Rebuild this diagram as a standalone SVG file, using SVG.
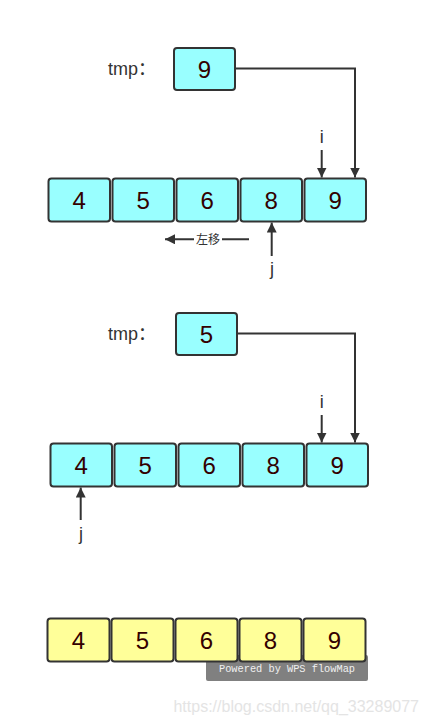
<svg xmlns="http://www.w3.org/2000/svg" width="429" height="724" viewBox="0 0 429 724">
<defs>
<marker id="ah" viewBox="0 0 10 10" refX="10" refY="5" markerWidth="10" markerHeight="10" markerUnits="userSpaceOnUse" orient="auto">
<path d="M0,0 L10,5 L0,10 z" fill="#333"/>
</marker>
<style>
.c{fill:#99FFFF;stroke:#333;stroke-width:2}
.y{fill:#FFFF99;stroke:#333;stroke-width:2}
.n{font-family:"Liberation Sans",Arial,sans-serif;font-size:24px;fill:#330000;text-anchor:middle}
.l{font-family:"Liberation Sans",Arial,sans-serif;font-size:18px;fill:#333333;text-anchor:middle}
.e{fill:none;stroke:#333;stroke-width:2;marker-end:url(#ah)}
</style>
</defs>
<rect width="429" height="724" fill="#fff"/>
<rect x="206" y="655" width="162" height="26" rx="2" fill="#808080"/>
<text x="219" y="672" font-family="'Liberation Mono','DejaVu Sans Mono',monospace" font-size="11" fill="#f0f0f0" textLength="136" lengthAdjust="spacingAndGlyphs">Powered by WPS flowMap</text>
<text x="419" y="712" font-family="'Liberation Sans',Arial,sans-serif" font-size="16" fill="#e4e4e4" text-anchor="end">https://blog.csdn.net/qq_33289077</text>

<text x="108" y="75" font-family="'Liberation Sans','Noto Sans CJK SC',sans-serif" font-size="18" fill="#333">tmp：</text>
<g id="tmp1"><rect class="c" x="174" y="48" width="61" height="42" rx="3"/><text class="n" x="204.5" y="78">9</text></g>
<g id="a1"><rect class="c" x="48.5" y="178.5" width="61.5" height="43" rx="3"/><text class="n" x="79.2" y="209">4</text></g>
<g id="a2"><rect class="c" x="112.5" y="178.5" width="61.5" height="43" rx="3"/><text class="n" x="143.2" y="209">5</text></g>
<g id="a3"><rect class="c" x="176.5" y="178.5" width="61.5" height="43" rx="3"/><text class="n" x="207.2" y="209">6</text></g>
<g id="a4"><rect class="c" x="240.5" y="178.5" width="61.5" height="43" rx="3"/><text class="n" x="271.2" y="209">8</text></g>
<g id="a5"><rect class="c" x="304.5" y="178.5" width="61.5" height="43" rx="3"/><text class="n" x="335.2" y="209">9</text></g>
<text class="l" x="321.7" y="143">i</text>
<text class="l" x="272" y="275">j</text>

<text x="108" y="340" font-family="'Liberation Sans','Noto Sans CJK SC',sans-serif" font-size="18" fill="#333">tmp：</text>
<g id="tmp2"><rect class="c" x="176" y="313" width="61" height="42" rx="3"/><text class="n" x="206.5" y="343">5</text></g>
<g id="b1"><rect class="c" x="50.5" y="443.5" width="61.5" height="43" rx="3"/><text class="n" x="81.2" y="474">4</text></g>
<g id="b2"><rect class="c" x="114.5" y="443.5" width="61.5" height="43" rx="3"/><text class="n" x="145.2" y="474">5</text></g>
<g id="b3"><rect class="c" x="178.5" y="443.5" width="61.5" height="43" rx="3"/><text class="n" x="209.2" y="474">6</text></g>
<g id="b4"><rect class="c" x="242.5" y="443.5" width="61.5" height="43" rx="3"/><text class="n" x="273.2" y="474">8</text></g>
<g id="b5"><rect class="c" x="306.5" y="443.5" width="61.5" height="43" rx="3"/><text class="n" x="337.2" y="474">9</text></g>
<text class="l" x="321.7" y="408">i</text>
<text class="l" x="81" y="540">j</text>

<g id="c1"><rect class="y" x="47.5" y="618.5" width="62" height="43" rx="3"/><text class="n" x="78.5" y="649">4</text></g>
<g id="c2"><rect class="y" x="111.5" y="618.5" width="62" height="43" rx="3"/><text class="n" x="142.5" y="649">5</text></g>
<g id="c3"><rect class="y" x="175.5" y="618.5" width="62" height="43" rx="3"/><text class="n" x="206.5" y="649">6</text></g>
<g id="c4"><rect class="y" x="239.5" y="618.5" width="62" height="43" rx="3"/><text class="n" x="270.5" y="649">8</text></g>
<g id="c5"><rect class="y" x="303.5" y="618.5" width="62" height="43" rx="3"/><text class="n" x="334.5" y="649">9</text></g>

<g id="connectors">
<path class="e" d="M236,68.5 H355 V177.5"/>
<path class="e" d="M321.7,150 V177.5"/>
<path class="e" d="M249,239.3 H165"/>
<rect x="194" y="231" width="28" height="16" fill="#fff"/>
<text x="208" y="244" font-family="'Noto Sans CJK SC',sans-serif" font-size="12" fill="#333" text-anchor="middle">左移</text>
<path class="e" d="M271.7,256 V222.5"/>
<path class="e" d="M238,333.5 H355 V442.5"/>
<path class="e" d="M321.7,415 V442.5"/>
<path class="e" d="M80.7,520 V487.5"/>
</g>
</svg>
